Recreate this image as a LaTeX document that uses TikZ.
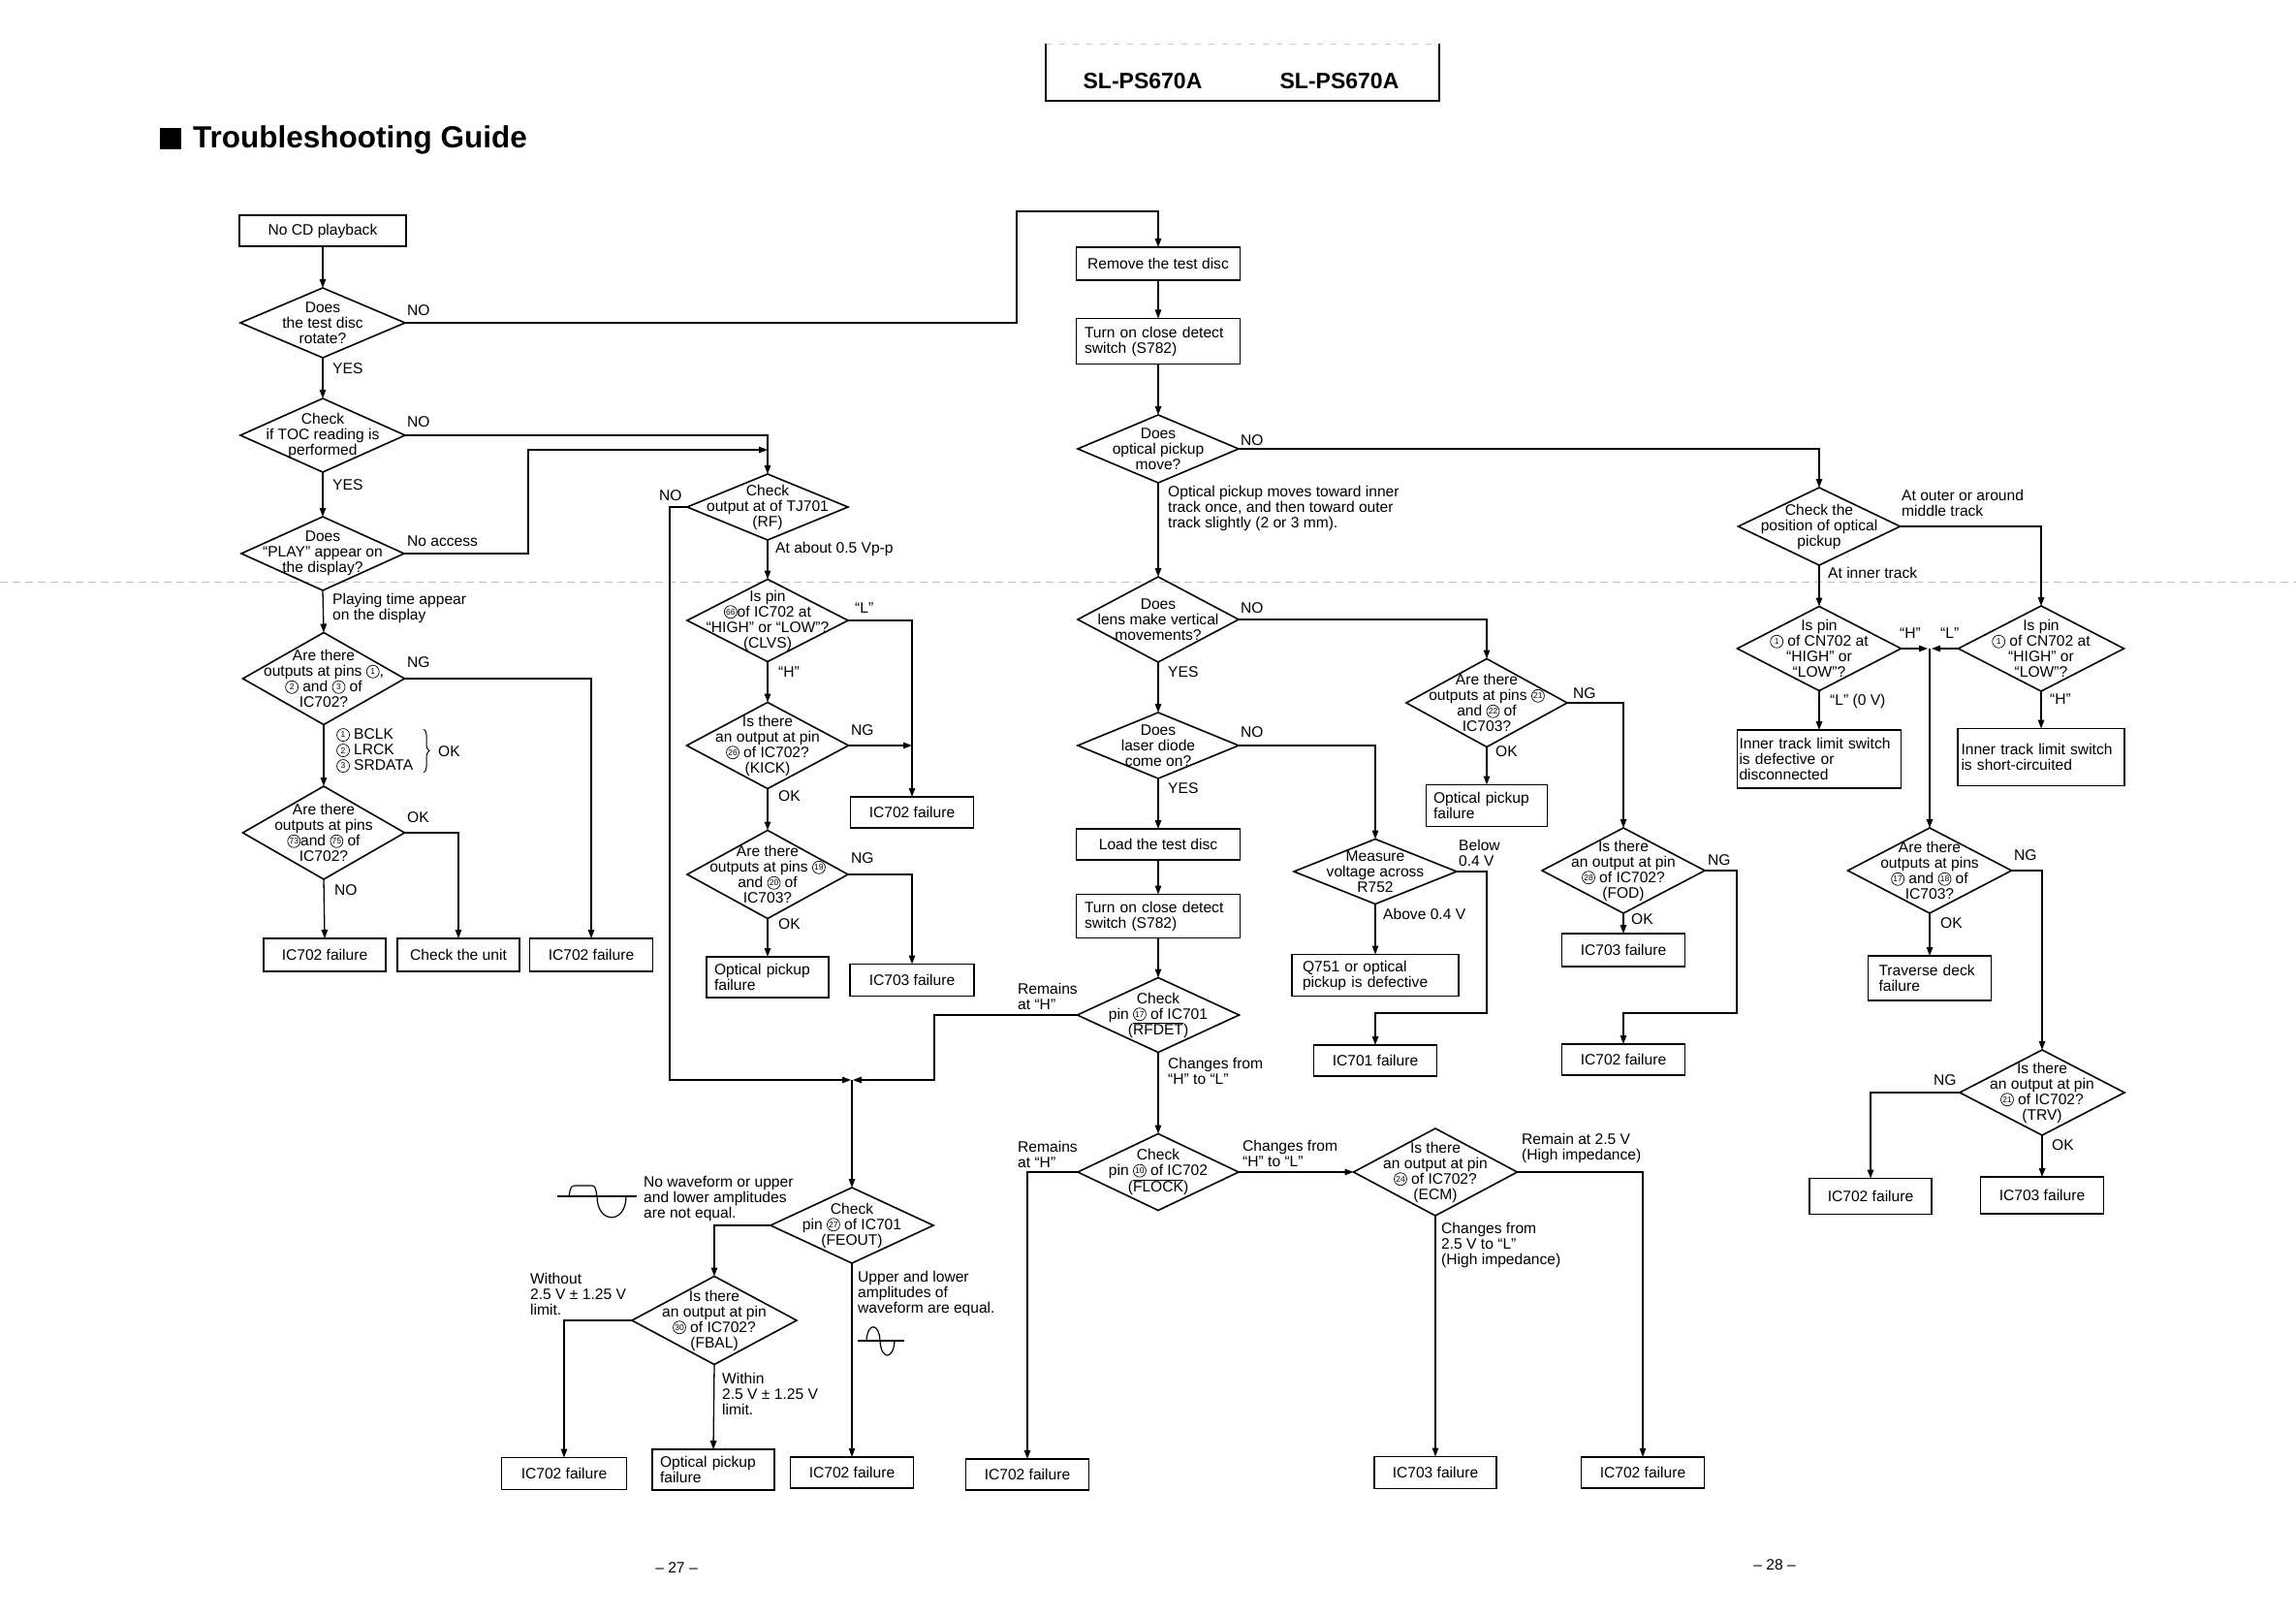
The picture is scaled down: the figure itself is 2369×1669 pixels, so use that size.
\documentclass[tikz,border=0pt]{standalone}
\usepackage{fontspec}
\setmainfont{Liberation Sans}
\usetikzlibrary{shapes.geometric,arrows.meta,decorations.pathreplacing}
\newcommand\bodyfont{\fontsize{15.6}{16}\selectfont}
\newcommand\circn[1]{\tikz[baseline={([yshift=-4.8pt]cc.center)}]\node[circle,draw,line width=0.7pt,inner sep=0pt,minimum size=13pt,font=\fontsize{8.5}{8.5}\selectfont](cc){#1};}
\newcommand\myovl[1]{$\overline{\hbox{#1}}$}
\newcommand\mydia[6]{\node[dia, minimum width=#4, minimum height=#5] (#1) at (#2,#3) {};\node[dtxt] (#1-t) at (#2,#3) {#6};}
\begin{document}
\begin{tikzpicture}[x=1pt,y=-1pt,
  box/.style={draw, line width=1.8pt, inner sep=0pt, outer sep=0pt, align=center, font=\bodyfont},
  dia/.style={draw, diamond, line width=1.6pt, inner sep=0pt, outer sep=0pt},
  dtxt/.style={font=\bodyfont, align=center, inner sep=0pt},
  lab/.style={font=\bodyfont, align=left, inner sep=0pt},
  con/.style={line width=1.3pt},
  arr/.style={line width=1.3pt, -{Triangle[length=9pt,width=6.5pt]}},
  wave/.style={line width=1.2pt}]
\useasboundingbox (0,0) rectangle (2369,1669);
\fill[white] (0,0) rectangle (2369,1669);

% header and title
\draw[gray!40, line width=0.8pt, dash pattern=on 6pt off 8pt] (1079,45) -- (1485,45);
\draw[line width=1.5pt] (1079,45) -- (1079,104) -- (1485,104) -- (1485,45);
\node[font=\bfseries\fontsize{23}{23}\selectfont] (m1) at (1179,84) {SL-PS670A};
\node[font=\bfseries\fontsize{23}{23}\selectfont] (m2) at (1382,84) {SL-PS670A};
\fill (165,132) rectangle (187,154);
\node[anchor=base west, inner sep=0pt, font=\bfseries\fontsize{31.5}{31.5}\selectfont] (title) at (199,153) {Troubleshooting Guide};
\draw[gray!50, line width=0.8pt, dash pattern=on 8pt off 5pt] (0,600) -- (2369,600);
\node[font=\bodyfont] (p27) at (698,1617) {– 27 –};
\node[font=\bodyfont] (p28) at (1831,1614) {– 28 –};

% ---------------- left column
\node[box, minimum width=172, minimum height=32] (n1) at (333,238) {No CD playback};
\mydia{d1}{333}{333}{170}{72}{Does\\the test disc\\rotate?}
\mydia{d2}{333}{449}{170}{76}{Check\\if TOC reading is\\performed}
\mydia{d3}{333}{571}{168}{76}{Does\\“PLAY” appear on\\the display?}
\mydia{d4}{334}{700}{167}{95}{Are there\\outputs at pins \circn{1},\\\circn{2} and \circn{3} of\\IC702?}
\mydia{d5}{334}{859}{167}{96}{Are there\\outputs at pins\\\circn{73}and \circn{75} of\\IC702?}
\node[box, minimum width=126, minimum height=34] (b1) at (335,985) {IC702 failure};
\node[box, minimum width=126, minimum height=34] (b2) at (473,985) {Check the unit};
\node[box, minimum width=127, minimum height=34] (b3) at (610,985) {IC702 failure};

\draw[arr] (n1.south) -- (d1.north);
\draw[arr] (d1.south) -- (d2.north);
\draw[arr] (d2.south) -- (d3.north);
\draw[arr] (d3.south) -- (d4.north);
\draw[arr] (d4.south) -- (d5.north);
\draw[arr] (d5.south) -- (b1.north);
\draw[arr] (d5.east) -| (b2.north);
\draw[arr] (d4.east) -| (b3.north);

\node[lab, anchor=west] (l1) at (420,320) {NO};
\node[lab, anchor=west] (l2) at (343,380) {YES};
\node[lab, anchor=west] (l3) at (420,435) {NO};
\node[lab, anchor=west] (l4) at (343,500) {YES};
\node[lab, anchor=west] (l5) at (420,558) {No access};
\node[lab, anchor=north west] (l6) at (343,612) {Playing time appear\\on the display};
\node[lab, anchor=west] (l7) at (420,683) {NG};
\node[lab, anchor=north west] (l8) at (347,751) {\circn{1} BCLK\\\circn{2} LRCK\\\circn{3} SRDATA};
\draw[line width=1pt, decorate, decoration={brace, amplitude=6pt}] (437,752) -- (437,797);
\node[lab, anchor=west] (l9) at (452,775) {OK};
\node[lab, anchor=west] (l10) at (420,843) {OK};
\node[lab, anchor=west] (l11) at (345,918) {NO};

% ---------------- second column
\mydia{tj}{792}{523}{166}{68}{Check\\output at of TJ701\\(RF)}
\mydia{clvs}{792}{640}{166}{85}{Is pin\\\circn{66}of IC702 at\\“HIGH” or “LOW”?\\(CLVS)}
\mydia{kick}{792}{769}{167}{89}{Is there\\an output at pin\\\circn{26} of IC702?\\(KICK)}
\mydia{d19}{792}{902}{166}{91}{Are there\\outputs at pins \circn{19}\\and \circn{20} of\\IC703?}
\node[box, minimum width=127, minimum height=32] (b4) at (941,838) {IC702 failure};
\node[box, minimum width=128, minimum height=33] (b5) at (941,1011) {IC703 failure};
\node[box, minimum width=126, minimum height=42, text width=110, align=left] (b6) at (792,1008) {Optical pickup\\failure};

\draw[arr] (d2.east) -- (792,449) -- (tj.north);
\draw[arr] (d3.east) -- (545,571) -- (545,464) -- (792,464);
\draw[arr] (tj.south) -- (clvs.north);
\draw[arr] (clvs.south) -- (kick.north);
\draw[arr] (kick.south) -- (d19.north);
\draw[arr] (d19.south) -- (b6.north);
\draw[arr] (clvs.east) -| (b4.north);
\coordinate (kj) at (941,769);
\draw[arr] (kick.east) -- (kj);
\draw[arr] (d19.east) -| (b5.north);
\coordinate (jn) at (879,1114);
\draw[arr] (tj.west) -- (691,523) -- (691,1114) -- ([xshift=-1pt]jn);

\node[lab, anchor=west] (l12) at (680,511) {NO};
\node[lab, anchor=west] (l13) at (800,566) {At about 0.5 Vp-p};
\node[lab, anchor=west] (l14) at (882,627) {“L”};
\node[lab, anchor=west] (l15) at (803,693) {“H”};
\node[lab, anchor=west] (l16) at (878,753) {NG};
\node[lab, anchor=west] (l17) at (803,821) {OK};
\node[lab, anchor=west] (l18) at (878,885) {NG};
\node[lab, anchor=west] (l19) at (803,953) {OK};

% ---------------- bottom left
\mydia{fe}{879}{1264}{168}{78}{Check\\pin \circn{27} of IC701\\(FEOUT)}
\mydia{fb}{737}{1362}{170}{91}{Is there\\an output at pin\\\circn{30} of IC702?\\(FBAL)}
\node[box, minimum width=129, minimum height=33] (b7) at (582,1520) {IC702 failure};
\node[box, minimum width=126, minimum height=42, text width=110, align=left] (b8) at (736,1516) {Optical pickup\\failure};
\node[box, minimum width=127, minimum height=32] (b9) at (879,1519) {IC702 failure};
\draw[arr] (jn) -- (fe.north);
\draw[arr] (fe.west) -| (fb.north);
\draw[arr] (fb.west) -| (b7.north);
\draw[arr] (fb.south) -- (b8.north);
\draw[arr] (fe.south) -- (b9.north);

\node[lab, anchor=north west] (l20) at (664,1213) {No waveform or upper\\and lower amplitudes\\are not equal.};
\node[lab, anchor=north west] (l21) at (547,1313) {Without\\2.5 V ± 1.25 V\\limit.};
\node[lab, anchor=north west] (l22) at (745,1416) {Within\\2.5 V ± 1.25 V\\limit.};
\node[lab, anchor=north west] (l23) at (885,1311) {Upper and lower\\amplitudes of\\waveform are equal.};
\draw[wave] (575,1234) -- (657,1234);
\draw[wave] (587,1234) .. controls (589,1223) .. (596,1223) -- (609,1223) .. controls (614,1223) .. (616,1234) .. controls (616,1263) and (646,1263) .. (646,1234);
\draw[wave] (885,1383) -- (933,1383);
\draw[wave] (894,1383) .. controls (895,1364) and (907,1364) .. (908,1383) .. controls (909,1403) and (922,1403) .. (923,1383);

% ---------------- middle column
\node[box, minimum width=169, minimum height=34] (rm) at (1195,272) {Remove the test disc};
\node[box, minimum width=169, minimum height=47, text width=152, align=left] (tc1) at (1195,352) {Turn on close detect\\switch (S782)};
\mydia{op}{1195}{463}{166}{70}{Does\\optical pickup\\move?}
\mydia{lens}{1195}{639}{166}{88}{Does\\lens make vertical\\movements?}
\mydia{ld}{1195}{769}{166}{68}{Does\\laser diode\\come on?}
\node[box, minimum width=169, minimum height=32] (load) at (1195,871) {Load the test disc};
\node[box, minimum width=169, minimum height=45, text width=152, align=left] (tc2) at (1195,945) {Turn on close detect\\switch (S782)};
\mydia{rf}{1195}{1047}{167}{77}{Check\\pin \circn{17} of IC701\\(\myovl{RFDET})}
\mydia{fl}{1195}{1209}{166}{79}{Check\\pin \circn{10} of IC702\\(\myovl{FLOCK})}
\mydia{ecm}{1481}{1209}{169}{90}{Is there\\an output at pin\\\circn{24} of IC702?\\(ECM)}
\node[box, minimum width=127, minimum height=32] (b10) at (1060,1521) {IC702 failure};
\node[box, minimum width=126, minimum height=33] (b11) at (1481,1519) {IC703 failure};
\node[box, minimum width=127, minimum height=32] (b12) at (1695,1519) {IC702 failure};

\draw[arr] (d1.east) -- (1049,333) -- (1049,218) -- (1195,218) -- (rm.north);
\draw[arr] (rm.south) -- (tc1.north);
\draw[arr] (tc1.south) -- (op.north);
\draw[arr] (op.south) -- (lens.north);
\draw[arr] (lens.south) -- (ld.north);
\draw[arr] (ld.south) -- (load.north);
\draw[arr] (load.south) -- (tc2.north);
\draw[arr] (tc2.south) -- (rf.north);
\draw[arr] (rf.south) -- (fl.north);
\draw[arr] (rf.west) -- (964,1047) -- (964,1114) -- ([xshift=1pt]jn);
\draw[arr] (fl.west) -| (b10.north);
\draw[arr] (fl.east) -- (ecm.west);
\draw[arr] (ecm.east) -| (b12.north);
\draw[arr] (ecm.south) -- (b11.north);

\node[lab, anchor=west] (l24) at (1280,454) {NO};
\node[lab, anchor=north west] (l25) at (1205,501) {Optical pickup moves toward inner\\track once, and then toward outer\\track slightly (2 or 3 mm).};
\node[lab, anchor=west] (l26) at (1280,627) {NO};
\node[lab, anchor=west] (l27) at (1205,693) {YES};
\node[lab, anchor=west] (l28) at (1280,755) {NO};
\node[lab, anchor=west] (l29) at (1205,813) {YES};
\node[lab, anchor=north west] (l30) at (1050,1014) {Remains\\at “H”};
\node[lab, anchor=north west] (l31) at (1205,1091) {Changes from\\“H” to “L”};
\node[lab, anchor=north west] (l32) at (1050,1177) {Remains\\at “H”};
\node[lab, anchor=north west] (l33) at (1282,1176) {Changes from\\“H” to “L”};
\node[lab, anchor=north west] (l34) at (1570,1169) {Remain at 2.5 V\\(High impedance)};
\node[lab, anchor=north west] (l35) at (1487,1261) {Changes from\\2.5 V to “L”\\(High impedance)};

% ---------------- measure group
\mydia{ms}{1419}{899}{168}{67}{Measure\\voltage across\\R752}
\node[box, minimum width=172, minimum height=43, text width=150, align=left] (q751) at (1419,1006) {Q751 or optical\\pickup is defective};
\node[box, minimum width=127, minimum height=32] (b13) at (1419,1094) {IC701 failure};
\draw[arr] (ld.east) -| (ms.north);
\draw[arr] (ms.south) -- (q751.north);
\draw[arr] (ms.east) -- (1534,899) -- (1534,1045) -- (1419,1045) -- (b13.north);
\node[lab, anchor=north west] (l36) at (1505,866) {Below\\0.4 V};
\node[lab, anchor=west] (l37) at (1427,943) {Above 0.4 V};

% ---------------- d21 group
\mydia{d21}{1534}{725}{166}{91}{Are there\\outputs at pins \circn{21}\\and \circn{22} of\\IC703?}
\node[box, minimum width=125, minimum height=43, text width=110, align=left] (b14) at (1534,831) {Optical pickup\\failure};
\mydia{fod}{1675}{898}{168}{88}{Is there\\an output at pin\\\circn{28} of IC702?\\(FOD)}
\node[box, minimum width=127, minimum height=34] (b15) at (1675,980) {IC703 failure};
\node[box, minimum width=127, minimum height=32] (b16) at (1675,1093) {IC702 failure};
\draw[arr] (lens.east) -| (d21.north);
\draw[arr] (d21.south) -- (b14.north);
\draw[arr] (d21.east) -| (fod.north);
\draw[arr] (fod.south) -- (b15.north);
\draw[arr] (fod.east) -- (1792,898) -- (1792,1045) -- (1675,1045) -- (b16.north);
\node[lab, anchor=west] (l38) at (1623,715) {NG};
\node[lab, anchor=west] (l39) at (1543,775) {OK};
\node[lab, anchor=west] (l40) at (1762,887) {NG};
\node[lab, anchor=west] (l41) at (1683,948) {OK};

% ---------------- right group
\mydia{pos}{1877}{543}{167}{80}{Check the\\position of optical\\pickup}
\mydia{cnl}{1877}{669}{169}{87}{Is pin\\\circn{1} of CN702 at\\“HIGH” or\\“LOW”?}
\mydia{cnr}{2106}{669}{171}{88}{Is pin\\\circn{1} of CN702 at\\“HIGH” or\\“LOW”?}
\node[box, minimum width=169, minimum height=60, text width=165, align=left] (b17) at (1877,783) {Inner track limit switch\\is defective or\\disconnected};
\node[box, minimum width=172, minimum height=59, text width=165, align=left] (b18) at (2106,781) {Inner track limit switch\\is short-circuited};
\mydia{tr}{1991}{898}{169}{88}{Are there\\outputs at pins\\\circn{17} and \circn{18} of\\IC703?}
\node[box, minimum width=127, minimum height=46, text width=105, align=left] (b19) at (1991,1009) {Traverse deck\\failure};
\mydia{trv}{2107}{1127}{170}{88}{Is there\\an output at pin\\\circn{21} of IC702?\\(TRV)}
\node[box, minimum width=126, minimum height=37] (b20) at (1930,1234) {IC702 failure};
\node[box, minimum width=127, minimum height=38] (b21) at (2107,1233) {IC703 failure};

\draw[arr] (op.east) -| (pos.north);
\draw[arr] (pos.south) -- (cnl.north);
\draw[arr] (pos.east) -| (cnr.north);
\coordinate (jr) at (1991,669);
\draw[arr] (cnl.east) -- ([xshift=-2pt]jr);
\draw[arr] (cnr.west) -- ([xshift=2pt]jr);
\draw[arr] (jr) -- (tr.north);
\draw[arr] (cnl.south) -- (b17.north);
\draw[arr] (cnr.south) -- (b18.north);
\draw[arr] (tr.south) -- (b19.north);
\draw[arr] (tr.east) -| (trv.north);
\draw[arr] (trv.west) -| (b20.north);
\draw[arr] (trv.south) -- (b21.north);

\node[lab, anchor=north west] (l42) at (1962,505) {At outer or around\\middle track};
\node[lab, anchor=west] (l43) at (1886,591) {At inner track};
\node[lab, anchor=west] (l44) at (1960,653) {“H”};
\node[lab, anchor=west] (l45) at (2002,653) {“L”};
\node[lab, anchor=west] (l46) at (1888,723) {“L” (0 V)};
\node[lab, anchor=west] (l47) at (2115,721) {“H”};
\node[lab, anchor=west] (l48) at (2078,882) {NG};
\node[lab, anchor=west] (l49) at (2002,952) {OK};
\node[lab, anchor=west] (l50) at (1995,1114) {NG};
\node[lab, anchor=west] (l51) at (2117,1181) {OK};
\end{tikzpicture}
\end{document}
